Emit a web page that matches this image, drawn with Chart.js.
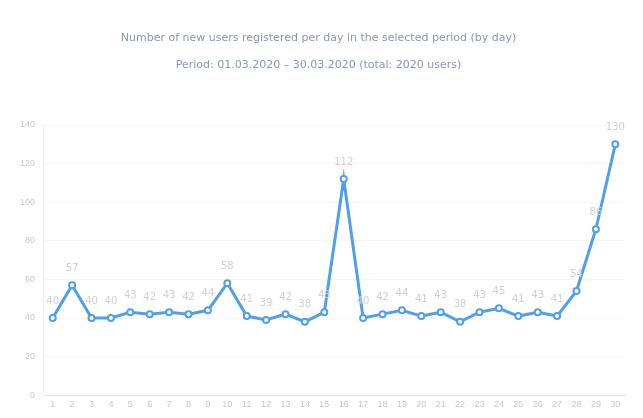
<!DOCTYPE html>
<html>
<head>
<meta charset="utf-8">
<script src="https://cdn.jsdelivr.net/npm/chart.js@4/dist/chart.umd.min.js"></script>
<style>
  html, body { margin: 0; padding: 0; background: #fff; }
  #wrap { width: 643px; height: 418px; position: relative; }
</style>
</head>
<body>
<div id="wrap"><canvas id="usersChart"></canvas></div>
<script>
// Days of the period
const days = ['1', '2', '3', '4', '5', '6', '7', '8', '9', '10',
    '11', '12', '13', '14', '15', '16', '17', '18', '19', '20',
    '21', '22', '23', '24', '25', '26', '27', '28', '29', '30'];

// Registrations per day
const registrations = [40, 57, 40, 40, 43, 42, 43, 42, 44, 58,
    41, 39, 42, 38, 43, 112, 40, 42, 44, 41,
    43, 38, 43, 45, 41, 43, 41, 54, 86, 130];

const yTicks = [0, 20, 40, 60, 80, 100, 120, 140];

const titleLines = [
    'Number of new users registered per day in the selected period (by day)',
    'Period: 01.03.2020 – 30.03.2020 (total: 2020 users)'
];

// small value labels above each point
const pointLabels = {
    id: 'pointLabels',
    afterDatasetsDraw(chart) {
        const ctx = chart.ctx;
        const meta = chart.getDatasetMeta(0);
        ctx.save();
        ctx.font = '10px "DejaVu Sans"';
        ctx.fillStyle = '#d0d0d0';
        ctx.textAlign = 'center';
        ctx.textBaseline = 'bottom';
        meta.data.forEach((pt, i) => {
            ctx.fillText(registrations[i], pt.x, pt.y - 12);
        });
        ctx.restore();
    }
};

new Chart(document.getElementById('usersChart'), {
    type: 'line',
    data: {
        labels: days,
        datasets: [{
            label: 'Registrations',
            data: registrations,
            borderColor: '#519fea',
            backgroundColor: '#519fea',
            borderWidth: 3,
            tension: 0,
            pointRadius: 3,
            pointBackgroundColor: '#ffffff',
            pointBorderColor: '#519fea',
            pointBorderWidth: 2
        }]
    },
    options: {
        responsive: true,
        maintainAspectRatio: false,
        animation: false,
        layout: { padding: { left: 12, right: 18, top: 20, bottom: 4 } },
        plugins: {
            legend: { display: false },
            tooltip: { enabled: false },
            title: {
                display: true,
                text: titleLines,
                color: '#8a96b4',
                font: { family: 'DejaVu Sans', size: 11, weight: 'normal', lineHeight: 2.5 },
                padding: { top: 4, bottom: 46 }
            }
        },
        scales: {
            x: {
                offset: true,
                grid: { display: false, drawTicks: false },
                border: { color: '#e4e6ee' },
                ticks: { color: '#c8c8c8', font: { size: 9 }, maxRotation: 0, autoSkip: false, padding: 4 }
            },
            y: {
                min: 0,
                max: 140,
                afterBuildTicks(scale) { scale.ticks = yTicks.map(v => ({ value: v })); },
                grid: { color: '#f6f6f8', drawTicks: false },
                border: { color: '#eef0f4' },
                ticks: { color: '#c8c8c8', font: { size: 9 }, padding: 8 }
            }
        }
    },
    plugins: [pointLabels]
});
</script>
</body>
</html>
